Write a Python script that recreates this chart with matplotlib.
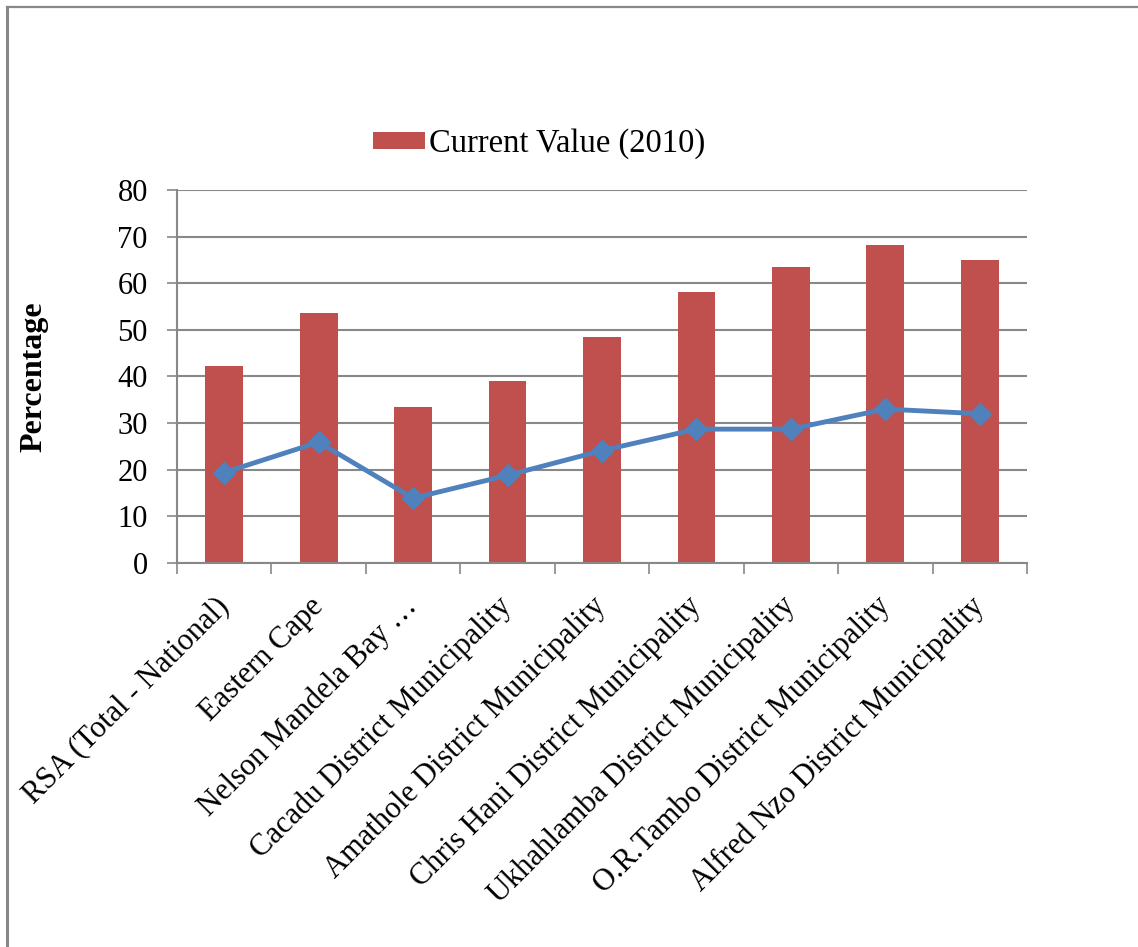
#!/usr/bin/env python3
"""Percentage by region: bar (current value 2010) plus line series."""

import matplotlib.pyplot as plt
from matplotlib.lines import Line2D

regions = [
    "RSA (Total - National)",
    "Eastern Cape",
    "Nelson Mandela Bay …",
    "Cacadu District Municipality",
    "Amathole District Municipality",
    "Chris Hani District Municipality",
    "Ukhahlamba District Municipality",
    "O.R.Tambo District Municipality",
    "Alfred Nzo District Municipality",
]
current_2010 = [42.3, 53.6, 33.5, 39.1, 48.4, 58.1, 63.5, 68.2, 64.9]
line_values = [19.4, 25.9, 13.9, 18.8, 24.1, 28.7, 28.7, 33.0, 32.0]
y_ticks = [0, 10, 20, 30, 40, 50, 60, 70, 80]


def main():
    plt.rcParams["font.family"] = ["Liberation Serif", "DejaVu Serif"]
    fig = plt.figure(figsize=(11.38, 9.47), dpi=100)
    ax = fig.add_axes([0.1555, 0.4055, 0.747, 0.394])

    x = list(range(len(regions)))
    ax.bar(x, current_2010, width=0.4, color="#C0504D", label="Current Value (2010)", zorder=2)
    ax.plot(x, line_values, color="#4F81BD", linewidth=3.5, marker="D", markersize=11,
            label="_nolegend_", zorder=3)

    ax.set_xlim(-0.5, len(regions) - 0.5)
    ax.set_ylim(0, 80)
    ax.set_yticks(y_ticks)
    ax.tick_params(axis="y", labelsize=22, length=7, width=1.2, color="#888888", pad=14)
    ax.set_xticks([i - 0.5 for i in range(len(regions) + 1)])
    ax.set_xticklabels([])
    ax.set_xticks(x, minor=True)
    ax.set_xticklabels(regions, minor=True, rotation=45, ha="right", va="center",
                       rotation_mode="anchor", fontsize=22)
    ax.tick_params(axis="x", which="major", length=8, width=1.2, color="#888888")
    ax.tick_params(axis="x", which="minor", length=0, pad=28)

    ax.grid(axis="y", color="#888888", linewidth=1.5, zorder=0)
    ax.set_axisbelow(True)
    for side in ["top", "right"]:
        ax.spines[side].set_visible(False)
    for side in ["left", "bottom"]:
        ax.spines[side].set_color("#888888")
        ax.spines[side].set_linewidth(1.5)

    ax.set_ylabel("Percentage", fontsize=23, fontweight="bold")
    ax.yaxis.set_label_coords(-0.151, 0.5)

    fig.legend(loc="center left", bbox_to_anchor=(0.313, 0.848), frameon=False, fontsize=23.5,
               handlelength=1.62, handleheight=0.47, handletextpad=0.1, borderpad=0)

    # outer frame lines (top and left) as in the source
    fig.add_artist(Line2D([0.0065, 0.0065], [0.0, 0.9925], transform=fig.transFigure,
                          color="#888888", linewidth=2.2))
    fig.add_artist(Line2D([0.0065, 1.0], [0.9925, 0.9925], transform=fig.transFigure,
                          color="#888888", linewidth=1.6))

    fig.savefig("out.png", dpi=100)


if __name__ == "__main__":
    main()
